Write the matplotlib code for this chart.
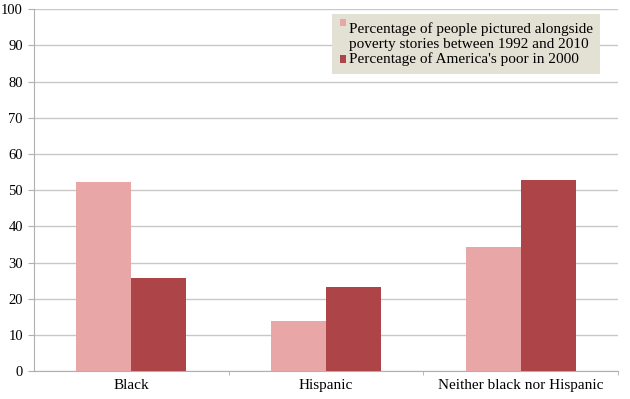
import numpy as np
import matplotlib
matplotlib.use('Agg')
import matplotlib.pyplot as plt
from matplotlib.patches import Patch, Rectangle
from matplotlib.legend_handler import HandlerBase

categories = ['Black', 'Hispanic', 'Neither black nor Hispanic']
pictured = [52.3, 13.8, 34.2]
poor_2000 = [25.7, 23.1, 52.7]
series_labels = ['Percentage of people pictured alongside\npoverty stories between 1992 and 2010',
                 "Percentage of America's poor in 2000"]

col_light = '#e8a6a7'
col_dark = '#ad4447'

plt.rcParams['font.family'] = ['Liberation Serif', 'DejaVu Serif']


# small square handle, optionally pushed up to sit on the first line of the label
class SquareHandle(HandlerBase):
    def __init__(self, shift=0):
        super().__init__()
        self.shift = shift

    def create_artists(self, legend, orig_handle, xdescent, ydescent, width, height, fontsize, trans):
        r = Rectangle((-xdescent, -ydescent + self.shift), width, height,
                      facecolor=orig_handle.get_facecolor(), edgecolor='none', transform=trans)
        return [r]


fig = plt.figure(figsize=(6.3, 3.99), dpi=100)
ax = fig.add_axes([0.054, 0.070, 0.927, 0.907])

x = np.arange(len(categories))
w = 0.283
ax.bar(x - w/2, pictured, w, color=col_light, zorder=3)
ax.bar(x + w/2, poor_2000, w, color=col_dark, zorder=3)

ax.set_xlim(-0.5, 2.5)
ax.set_ylim(0, 100)
ax.set_yticks(range(0, 101, 10))
ax.yaxis.grid(True, color='#c8c8c8', lw=1, zorder=0)
ax.set_axisbelow(True)

ax.set_xticks(x)
ax.set_xticklabels(categories, fontsize=11)
ax.set_xticks([0.5, 1.5, 2.5], minor=True)
ax.tick_params(axis='x', which='major', length=0, pad=6)
ax.tick_params(axis='x', which='minor', length=3, color='#b0b0b0', direction='out')
ax.tick_params(axis='y', length=4, color='#b0b0b0', labelsize=10.5, pad=4)

for s in ['top', 'right']:
    ax.spines[s].set_visible(False)
for s in ['left', 'bottom']:
    ax.spines[s].set_color('#b0b0b0')

h1 = Patch(color=col_light)
h2 = Patch(color=col_dark)
leg = ax.legend([h1, h2], series_labels, loc='upper left', bbox_to_anchor=(0.511, 0.986),
                fontsize=11, frameon=True, fancybox=False, handlelength=0.36,
                handleheight=0.36, handletextpad=0.2, labelspacing=0.1,
                borderpad=0.5, borderaxespad=0,
                handler_map={h1: SquareHandle(9.6), h2: SquareHandle(-1)})
leg.get_frame().set_facecolor('#e3e0d4')
leg.get_frame().set_edgecolor('none')
leg.get_frame().set_alpha(1)

fig.savefig('out.png', dpi=100)
